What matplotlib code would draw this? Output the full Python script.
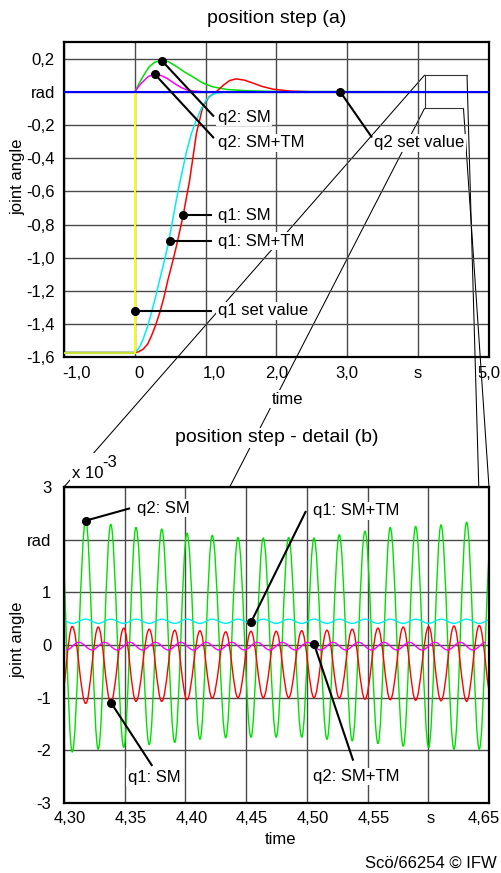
import matplotlib
matplotlib.use("Agg")
import matplotlib.pyplot as plt
from matplotlib.path import Path
from matplotlib.patches import PathPatch, ConnectionPatch, Rectangle
from matplotlib.transforms import ScaledTranslation

plt.rcParams["font.family"] = ["Liberation Sans", "DejaVu Sans"]
plt.rcParams["font.size"] = 12

# ---------------- (a) position step, values in rad over time in s
t_q2_set = [-1.0, 5.0]
v_q2_set = [0.0, 0.0]
t_q1_set = [-1.0, 0.0, 0.0, 5.0]
v_q1_set = [-1.57, -1.57, 0.0, 0.0]

t_q2_sm = [-1.0, 0.0, 0.06, 0.12, 0.2, 0.28, 0.38, 0.48, 0.59, 0.7, 0.82, 0.95, 1.1, 1.3, 1.6, 2.0, 5.0]
v_q2_sm = [0.0, 0.0, 0.05, 0.095, 0.15, 0.178, 0.19, 0.18, 0.152, 0.12, 0.09, 0.055, 0.03, 0.014, 0.006, 0.002, 0.0]

t_q2_smtm = [-1.0, 0.0, 0.05, 0.1, 0.19, 0.28, 0.36, 0.45, 0.52, 0.59, 0.66, 0.73, 0.85, 1.0, 5.0]
v_q2_smtm = [0.0, 0.0, 0.03, 0.055, 0.092, 0.108, 0.1, 0.082, 0.062, 0.042, 0.025, 0.012, 0.003, 0.0, 0.0]

t_q1_sm = [-1.0, 0.0, 0.05, 0.117, 0.18, 0.235, 0.29, 0.352, 0.41, 0.469, 0.53, 0.587, 0.68, 0.775,
           0.87, 0.96, 1.05, 1.15, 1.25, 1.34, 1.43, 1.55, 1.67, 1.8, 1.95, 2.2, 2.5, 5.0]
v_q1_sm = [-1.57, -1.57, -1.566, -1.55, -1.52, -1.47, -1.41, -1.33, -1.24, -1.13, -1.03, -0.93, -0.75, -0.53,
           -0.25, -0.09, -0.03, 0.0, 0.04, 0.068, 0.078, 0.07, 0.052, 0.032, 0.016, 0.004, 0.0, 0.0]

t_q1_smtm = [-1.0, 0.0, 0.024, 0.07, 0.117, 0.175, 0.235, 0.29, 0.352, 0.41, 0.47, 0.54, 0.587, 0.634,
             0.73, 0.8, 0.87, 0.94, 1.01, 1.08, 1.15, 1.3, 5.0]
v_q1_smtm = [-1.57, -1.57, -1.56, -1.535, -1.49, -1.42, -1.33, -1.24, -1.13, -1.03, -0.92, -0.76, -0.65, -0.55,
             -0.36, -0.25, -0.168, -0.10, -0.048, -0.02, -0.008, 0.0, 0.0]

xticks_a = [-1, 0, 1, 2, 3, 4, 5]
xlabels_a = ["-1,0", "0", "1,0", "2,0", "3,0", "s", "5,0"]
yticks_a = [0.2, 0.0, -0.2, -0.4, -0.6, -0.8, -1.0, -1.2, -1.4, -1.6]
ylabels_a = ["0,2", "rad", "-0,2", "-0,4", "-0,6", "-0,8", "-1,0", "-1,2", "-1,4", "-1,6"]

# ---------------- (b) detail, values in 1e-3 rad; extrema of the oscillations
t_hi = [4.2970, 4.3179, 4.3385, 4.3593, 4.3805, 4.4013, 4.4221, 4.4433, 4.4641, 4.4850,
        4.5059, 4.5267, 4.5479, 4.5687, 4.5896, 4.6105, 4.6316, 4.6525]
t_lo = [4.3068, 4.3282, 4.3492, 4.3702, 4.3912, 4.4120, 4.4332, 4.4540, 4.4748, 4.4958,
        4.5166, 4.5374, 4.5586, 4.5794, 4.6003, 4.6212, 4.6420]
q2_sm_hi = [2.40, 2.37, 2.29, 2.23, 2.20, 2.12, 2.08, 2.04, 2.03, 2.04, 2.03, 2.09, 2.16, 2.23, 2.25, 2.28, 2.33, 2.35]
q2_sm_lo = [-2.03, -1.98, -1.94, -1.89, -1.85, -1.79, -1.76, -1.75, -1.75, -1.75, -1.79, -1.82, -1.87,
            -1.92, -1.95, -1.98, -1.98]
q1_sm_at_hi = [-1.12, -1.11, -1.09, -1.07, -1.07, -1.04, -1.01, -1.00, -1.00, -1.00, -1.00, -1.01, -1.03,
               -1.04, -1.05, -1.06, -1.07, -1.08]
q1_sm_at_lo = [0.35, 0.34, 0.32, 0.30, 0.28, 0.27, 0.25, 0.26, 0.26, 0.27, 0.28, 0.30, 0.32, 0.34, 0.35, 0.36, 0.37]
q1_smtm_at_hi = [0.49, 0.49, 0.49, 0.49, 0.49, 0.49, 0.49, 0.49, 0.49, 0.49, 0.49, 0.49, 0.49, 0.49, 0.49, 0.49, 0.49, 0.49]
q1_smtm_at_lo = [0.41, 0.41, 0.41, 0.41, 0.41, 0.41, 0.41, 0.41, 0.41, 0.41, 0.41, 0.41, 0.41, 0.41, 0.41, 0.41, 0.41]
q2_smtm_hi = [0.05, 0.05, 0.05, 0.05, 0.05, 0.05, 0.05, 0.05, 0.05, 0.05, 0.05, 0.05, 0.05, 0.05, 0.05, 0.05, 0.05]
q2_smtm_lo = [-0.095, -0.095, -0.095, -0.095, -0.095, -0.095, -0.095, -0.095, -0.095, -0.095, -0.095, -0.095,
              -0.095, -0.095, -0.095, -0.095, -0.095]

xticks_b = [4.30, 4.35, 4.40, 4.45, 4.50, 4.55, 4.60, 4.65]
xlabels_b = ["4,30", "4,35", "4,40", "4,45", "4,50", "4,55", "s", "4,65"]
yticks_b = [3, 2, 1, 0, -1, -2, -3]
ylabels_b = ["3", "rad", "1", "0", "-1", "-2", "-3"]

GREEN, MAGENTA, RED, CYAN = "#00e000", "#ff00ff", "#ff0000", "#00eef0"
BLUE, YELLOW, YGREEN = "#0000ff", "#ffff00", "#c4e036"
WHITE_BOX = dict(fc="white", ec="none", pad=1)


def smooth_wave(ax, t_a, v_a, t_b, v_b, color, lw=1.0, z=2):
    # cubic segments with flat tangents at each extremum
    pts = sorted(list(zip(t_a, v_a)) + list(zip(t_b, v_b)))
    verts, codes = [pts[0]], [Path.MOVETO]
    for (t0, v0), (t1, v1) in zip(pts[:-1], pts[1:]):
        h = 0.3634 * (t1 - t0)
        verts += [(t0 + h, v0), (t1 - h, v1), (t1, v1)]
        codes += [Path.CURVE4] * 3
    ax.add_patch(PathPatch(Path(verts, codes), fc="none", ec=color, lw=lw, zorder=z))


def callout(ax, label, dot, end, txt):
    ax.plot([dot[0], end[0]], [dot[1], end[1]], color="k", lw=1.5, zorder=5, solid_capstyle="butt")
    ax.plot([dot[0]], [dot[1]], "o", color="k", ms=5.5, zorder=6)
    ax.text(txt[0], txt[1], label, ha="left", va="center", bbox=WHITE_BOX, zorder=7)


def style_axes(ax, xticks, xlabels, yticks, ylabels, xoffs, ypad):
    ax.set_facecolor("none")
    ax.set_axisbelow(True)
    ax.grid(True, color="#4a4a4a", lw=1.0)
    for sp in ax.spines.values():
        sp.set_linewidth(1.6)
    ax.set_xticks(xticks)
    ax.set_xticklabels(xlabels)
    ax.set_yticks(yticks)
    ax.set_yticklabels(ylabels)
    ax.tick_params(axis="x", length=0, pad=6)
    ax.tick_params(axis="y", length=0, pad=ypad)
    for lab, dx in zip(ax.get_xticklabels(), xoffs):
        lab.set_transform(lab.get_transform() + ScaledTranslation(dx / 100, 0, fig.dpi_scale_trans))


fig = plt.figure(figsize=(5.01, 8.73), dpi=100)
ax1 = fig.add_axes([0.1277, 0.5905, 0.8483, 0.3614])
ax2 = fig.add_axes([0.1277, 0.0802, 0.8483, 0.362])

# ---- panel (a)
ax1.plot(t_q2_sm, v_q2_sm, color=GREEN, lw=1.1, zorder=2)
ax1.plot(t_q2_smtm, v_q2_smtm, color=MAGENTA, lw=1.1, zorder=2)
ax1.plot(t_q1_sm, v_q1_sm, color=RED, lw=1.1, zorder=2)
ax1.plot(t_q1_smtm, v_q1_smtm, color=CYAN, lw=1.1, zorder=2)
ax1.plot(t_q1_set[:2], v_q1_set[:2], color=YGREEN, lw=1.6, zorder=3)
ax1.plot(t_q1_set[1:], v_q1_set[1:], color=YELLOW, lw=1.4, zorder=3)
ax1.plot(t_q2_set, v_q2_set, color=BLUE, lw=1.5, zorder=4)
ax1.set_xlim(-1, 5)
ax1.set_ylim(-1.6, 0.3)
style_axes(ax1, xticks_a, xlabels_a, yticks_a, ylabels_a, [13, 4, 9, 0, 0, 0, 0], 6.5)
ax1.set_xlabel("time", bbox=WHITE_BOX)
ax1.xaxis.set_label_coords(0.526, -0.108)
ax1.set_ylabel("joint angle")
ax1.yaxis.set_label_coords(-0.09, 0.573)
ax1.text(0.5, 1.073, "position step (a)", transform=ax1.transAxes, ha="center", va="center", fontsize=14)

callout(ax1, "q2: SM", (0.385, 0.186), (1.117, -0.149), (1.169, -0.152))
callout(ax1, "q2: SM+TM", (0.282, 0.106), (1.117, -0.279), (1.169, -0.307))
callout(ax1, "q2 set value", (2.90, 0.0), (3.348, -0.275), (3.38, -0.307))
callout(ax1, "q1: SM", (0.680, -0.744), (1.085, -0.744), (1.169, -0.744))
callout(ax1, "q1: SM+TM", (0.493, -0.900), (1.085, -0.900), (1.169, -0.900))
callout(ax1, "q1 set value", (0.0, -1.32), (1.085, -1.32), (1.169, -1.32))

# zoom frame in (a) and its links down to (b)
ax1.plot([4.09, 4.69], [0.1, 0.1], color="#333333", lw=0.8, zorder=1.5)
ax1.plot([4.09, 4.09], [0.1, -0.1], color="#333333", lw=0.8, zorder=1.5)
ax1.plot([4.09, 4.64], [-0.1, -0.1], color="#333333", lw=0.8, zorder=1.5)
links = [((4.09, 0.1), (0.0, 1.0)), ((4.09, -0.1), (0.39, 1.0)),
         ((4.69, 0.1), (0.976, 1.0)), ((4.64, -0.1), (1.0, 1.0))]
for xa, xb in links:
    fig.add_artist(ConnectionPatch(xyA=xa, coordsA=ax1.transData, xyB=xb, coordsB=ax2.transAxes,
                                   color="k", lw=0.75, zorder=-1))

# ---- panel (b)
smooth_wave(ax2, t_hi, q2_sm_hi, t_lo, q2_sm_lo, GREEN, z=2)
smooth_wave(ax2, t_hi, q1_sm_at_hi, t_lo, q1_sm_at_lo, RED, z=2.1)
smooth_wave(ax2, t_hi, q1_smtm_at_hi, t_lo, q1_smtm_at_lo, CYAN, z=2.2)
# q2 SM+TM swings a quarter period off the others
t_mag_hi = [(a + b) / 2 for a, b in zip(t_lo, t_hi[1:])]
t_mag_lo = [(a + b) / 2 for a, b in zip(t_hi, t_lo)]
smooth_wave(ax2, t_mag_hi, q2_smtm_hi, t_mag_lo, q2_smtm_lo, MAGENTA, z=2.3)
ax2.set_xlim(4.30, 4.65)
ax2.set_ylim(-3, 3)
style_axes(ax2, xticks_b, xlabels_b, yticks_b, ylabels_b, [6, 6, 6, 6, 6, 6, 2, -5], 9)
ax2.set_xlabel("time")
ax2.xaxis.set_label_coords(0.51, -0.092)
ax2.set_ylabel("joint angle")
ax2.yaxis.set_label_coords(-0.09, 0.516)
ax2.text(0.5, 1.155, "position step - detail (b)", transform=ax2.transAxes, ha="center", va="center",
         fontsize=14, bbox=WHITE_BOX, zorder=7)

# scale note, on a white patch that hides the link line behind it
ax2.add_patch(Rectangle((0.014, 1.016), 0.118, 0.092, transform=ax2.transAxes, fc="white", ec="none",
                        clip_on=False, zorder=6))
ax2.text(0.018, 1.044, "x 10", transform=ax2.transAxes, ha="left", va="center", zorder=7)
ax2.text(0.091, 1.078, "-3", transform=ax2.transAxes, ha="left", va="center", zorder=7)

callout(ax2, "q2: SM", (4.3179, 2.36), (4.3544, 2.595), (4.3601, 2.60))
callout(ax2, "q1: SM+TM", (4.4540, 0.43), (4.4993, 2.544), (4.5051, 2.544))
callout(ax2, "q2: SM+TM", (4.5059, 0.02), (4.5382, -2.197), (4.5051, -2.50))
callout(ax2, "q1: SM", (4.3387, -1.095), (4.3727, -2.297), (4.3525, -2.51))

fig.text(497 / 501, 1 - 863 / 873, "Scö/66254 © IFW", ha="right", va="center")

fig.savefig("out.png", dpi=100, facecolor="white")
